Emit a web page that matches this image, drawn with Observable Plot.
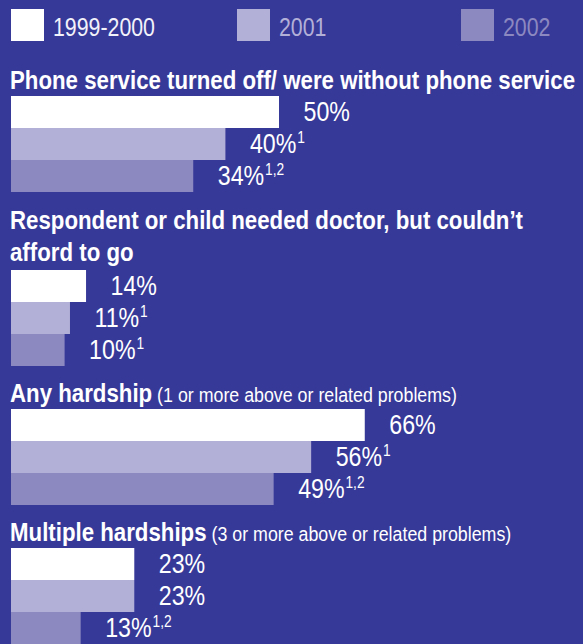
<!DOCTYPE html>
<html>
<head>
<meta charset="utf-8">
<script src="https://cdn.jsdelivr.net/npm/d3@7"></script>
<script src="https://cdn.jsdelivr.net/npm/@observablehq/plot@0.6"></script>
<style>
  html, body { margin: 0; padding: 0; background: #373998; }
  body { width: 583px; height: 644px; overflow: hidden; font-family: "Liberation Sans", Arial, sans-serif; color: #fff; }
  #legend { height: 53px; position: relative; }
  .item { position: absolute; top: 9px; height: 32px; display: flex; align-items: flex-start; }
  .sw { width: 33px; height: 32px; flex: none; }
  .lt { font-size: 26px; line-height: 32px; margin-left: 9px; padding-top: 2px; display: inline-block; transform: scaleX(0.82); transform-origin: left center; white-space: nowrap; }
  .head { box-sizing: border-box; padding-left: 10px; padding-top: 11px; line-height: 32px; font-size: 25px; font-weight: bold; }
  .line { display: block; white-space: nowrap; transform: scaleX(0.89); transform-origin: left center; width: 700px; }
  .head .sub { font-size: 20px; font-weight: normal; }
  svg { display: block; }
</style>
</head>
<body>
<div id="legend"></div>
<div id="chart"></div>
<script>
const categories = [
  ["Phone service turned off/ were without phone service"],
  ["Respondent or child needed doctor, but couldn’t", "afford to go"],
  ["Any hardship"],
  ["Multiple hardships"]
];
const subtitles = ["", "", "(1 or more above or related problems)", "(3 or more above or related problems)"];
const years = ["1999-2000", "2001", "2002"];
const colors = ["#ffffff", "#b3b0d8", "#8c88c0"];
const values1999 = [50, 14, 66, 23];
const values2001 = [40, 11, 56, 23];
const values2002 = [34, 10, 49, 13];
const notes1999 = ["", "", "", ""];
const notes2001 = ["1", "1", "1", ""];
const notes2002 = ["1,2", "1", "1,2", "1,2"];

// legend
const legendX = [11, 237, 461];
const legend = document.getElementById("legend");
years.forEach((y, i) => {
  const it = document.createElement("div");
  it.className = "item";
  it.style.left = legendX[i] + "px";
  it.innerHTML = `<div class="sw" style="background:${colors[i]}"></div><div class="lt" style="color:${i === 0 ? "#f2f2fa" : colors[i]}">${y}</div>`;
  legend.appendChild(it);
});

const chart = document.getElementById("chart");
const headHeights = [43, 78, 43, 43];
const K = 0.86; // horizontal condensation of label text
categories.forEach((lines, g) => {
  const h = document.createElement("div");
  h.className = "head";
  h.style.height = headHeights[g] + "px";
  if (g === 1) h.style.paddingTop = "12px";
  lines.forEach((ln, j) => {
    const l = document.createElement("span");
    l.className = "line";
    l.textContent = ln;
    if (j === lines.length - 1 && subtitles[g]) {
      const s = document.createElement("span");
      s.className = "sub";
      s.textContent = " " + subtitles[g];
      l.appendChild(s);
    }
    h.appendChild(l);
  });
  chart.appendChild(h);

  const data = years.map((y, i) => ({
    year: y,
    value: [values1999, values2001, values2002][i][g],
    note: [notes1999, notes2001, notes2002][i][g]
  }));

  const plot = Plot.plot({
    width: 583,
    height: 96,
    margin: 0,
    style: { background: "transparent", overflow: "visible", color: "#fff" },
    x: { domain: [0, 100], range: [11, 547], axis: null },
    y: { domain: years, padding: 0, axis: null },
    color: { domain: years, range: colors },
    marks: [
      Plot.barX(data, { x: "value", y: "year", fill: "year", inset: 0 }),
      Plot.text(data, {
        x: "value", y: "year", text: d => d.value + "%",
        dx: 24, textAnchor: "start", fill: "#fff",
        fontSize: 27, fontFamily: "Liberation Sans, Arial, sans-serif"
      })
    ]
  });
  // condense labels horizontally and add superscript footnote markers
  const texts = d3.select(plot).selectAll("g[aria-label='text'] text");
  texts.each(function (_, i) {
    const t = d3.select(this);
    const tr = t.attr("transform");
    if (tr) {
      t.attr("transform", tr + ` scale(${K},1)`);
    } else {
      const x = +t.attr("x") || 0;
      t.attr("transform", `translate(${x * (1 - K)},0) scale(${K},1)`);
    }
    const note = data[i].note;
    if (note) {
      t.append("tspan")
        .attr("dx", 1).attr("dy", -10)
        .attr("font-size", 16)
        .text(note);
    }
  });
  chart.appendChild(plot);
});
</script>
</body>
</html>
